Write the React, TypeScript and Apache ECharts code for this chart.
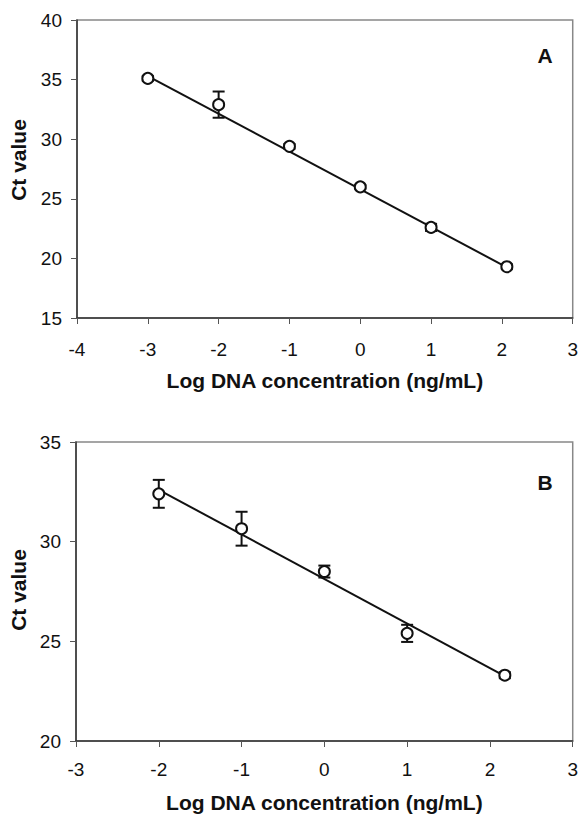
import React, { useEffect, useRef } from "react";
import * as echarts from "echarts";

const xTicksA = [-4, 3];
const xA = [-3, -2, -1, 0, 1, 2.07];
const yA = [35.1, 32.9, 29.4, 26.0, 22.6, 19.3];
const errA = [0.2, 1.1, 0.2, 0.15, 0.3, 0.2];
const fitA = [[-3, 35.3], [2.07, 19.25]];

const xB = [-2, -1, 0, 1, 2.18];
const yB = [32.4, 30.65, 28.5, 25.4, 23.3];
const errB = [0.7, 0.85, 0.3, 0.43, 0.15];
const fitB = [[-2, 32.6], [2.18, 23.25]];

const FONT = "Liberation Sans, Arial, sans-serif";

function errSeries(xs: number[], ys: number[], es: number[], idx: number) {
  return {
    type: "custom",
    xAxisIndex: idx,
    yAxisIndex: idx,
    data: xs.map((x, i) => [x, ys[i] - es[i], ys[i] + es[i]]),
    renderItem: (params: any, api: any) => {
      const lo = api.coord([api.value(0), api.value(1)]);
      const hi = api.coord([api.value(0), api.value(2)]);
      const w = 6;
      const st = { stroke: "#111", lineWidth: 2 };
      return {
        type: "group",
        children: [
          { type: "line", shape: { x1: lo[0], y1: lo[1], x2: hi[0], y2: hi[1] }, style: st },
          { type: "line", shape: { x1: lo[0] - w, y1: lo[1], x2: lo[0] + w, y2: lo[1] }, style: st },
          { type: "line", shape: { x1: hi[0] - w, y1: hi[1], x2: hi[0] + w, y2: hi[1] }, style: st },
        ],
      };
    },
    z: 3,
  };
}

function axisCommon() {
  return {
    axisLine: { show: true, onZero: false, lineStyle: { color: "#333", width: 1.5 } },
    axisTick: { show: true, inside: false, length: 6, lineStyle: { color: "#555", width: 1 } },
    splitLine: { show: false },
    axisLabel: { color: "#111", fontSize: 19, fontFamily: FONT },
    nameTextStyle: { color: "#111", fontSize: 21, fontWeight: "bold", fontFamily: FONT },
  };
}

export default function App() {
  const ref = useRef<HTMLDivElement>(null);
  useEffect(() => {
    document.body.style.margin = "0";
    const chart = echarts.init(ref.current!, null, { renderer: "svg" });
    const ac = axisCommon();
    const pointStyle = { color: "#fff", borderColor: "#111", borderWidth: 2, opacity: 1 };
    const yName = (y: number) => ({
      type: "text", x: 18, y, rotation: Math.PI / 2,
      style: { text: "Ct value", font: `bold 21px ${FONT}`, fill: "#111", align: "center", verticalAlign: "middle" },
    });
    chart.setOption({
      animation: false,
      backgroundColor: "#fff",
      grid: [
        { left: 77, top: 20, width: 497, height: 298, show: true, borderColor: "#888", borderWidth: 1.5 },
        { left: 76, top: 442, width: 498, height: 299, show: true, borderColor: "#888", borderWidth: 1.5 },
      ],
      xAxis: [
        {
          ...ac, gridIndex: 0, type: "value", min: xTicksA[0], max: xTicksA[1], interval: 1,
          axisLabel: { ...ac.axisLabel, margin: 22 },
          name: "Log DNA concentration (ng/mL)", nameLocation: "middle", nameGap: 52,
        },
        {
          ...ac, gridIndex: 1, type: "value", min: -3, max: 3, interval: 1,
          axisLabel: { ...ac.axisLabel, margin: 19 },
          name: "Log DNA concentration (ng/mL)", nameLocation: "middle", nameGap: 51,
        },
      ],
      yAxis: [
        {
          ...ac, gridIndex: 0, type: "value", min: 15, max: 40, interval: 5,
          axisLabel: { ...ac.axisLabel, margin: 15 },
        },
        {
          ...ac, gridIndex: 1, type: "value", min: 20, max: 35, interval: 5,
          axisLabel: { ...ac.axisLabel, margin: 15 },
        },
      ],
      series: [
        {
          type: "line", xAxisIndex: 0, yAxisIndex: 0, data: fitA, symbol: "none",
          lineStyle: { color: "#111", width: 2 }, z: 2,
        },
        errSeries(xA, yA, errA, 0),
        {
          type: "scatter", xAxisIndex: 0, yAxisIndex: 0, data: xA.map((x, i) => [x, yA[i]]),
          symbol: "circle", symbolSize: 11, itemStyle: pointStyle, z: 4,
        },
        {
          type: "line", xAxisIndex: 1, yAxisIndex: 1, data: fitB, symbol: "none",
          lineStyle: { color: "#111", width: 2 }, z: 2,
        },
        errSeries(xB, yB, errB, 1),
        {
          type: "scatter", xAxisIndex: 1, yAxisIndex: 1, data: xB.map((x, i) => [x, yB[i]]),
          symbol: "circle", symbolSize: 11, itemStyle: pointStyle, z: 4,
        },
      ],
      graphic: [
        yName(160),
        yName(590),
        { type: "text", x: 545, y: 55, style: { text: "A", font: `bold 21px ${FONT}`, fill: "#111", align: "center", verticalAlign: "middle" } },
        { type: "text", x: 545, y: 482, style: { text: "B", font: `bold 21px ${FONT}`, fill: "#111", align: "center", verticalAlign: "middle" } },
      ],
    });
    return () => chart.dispose();
  }, []);
  return <div ref={ref} style={{ width: 581, height: 816 }} />;
}
